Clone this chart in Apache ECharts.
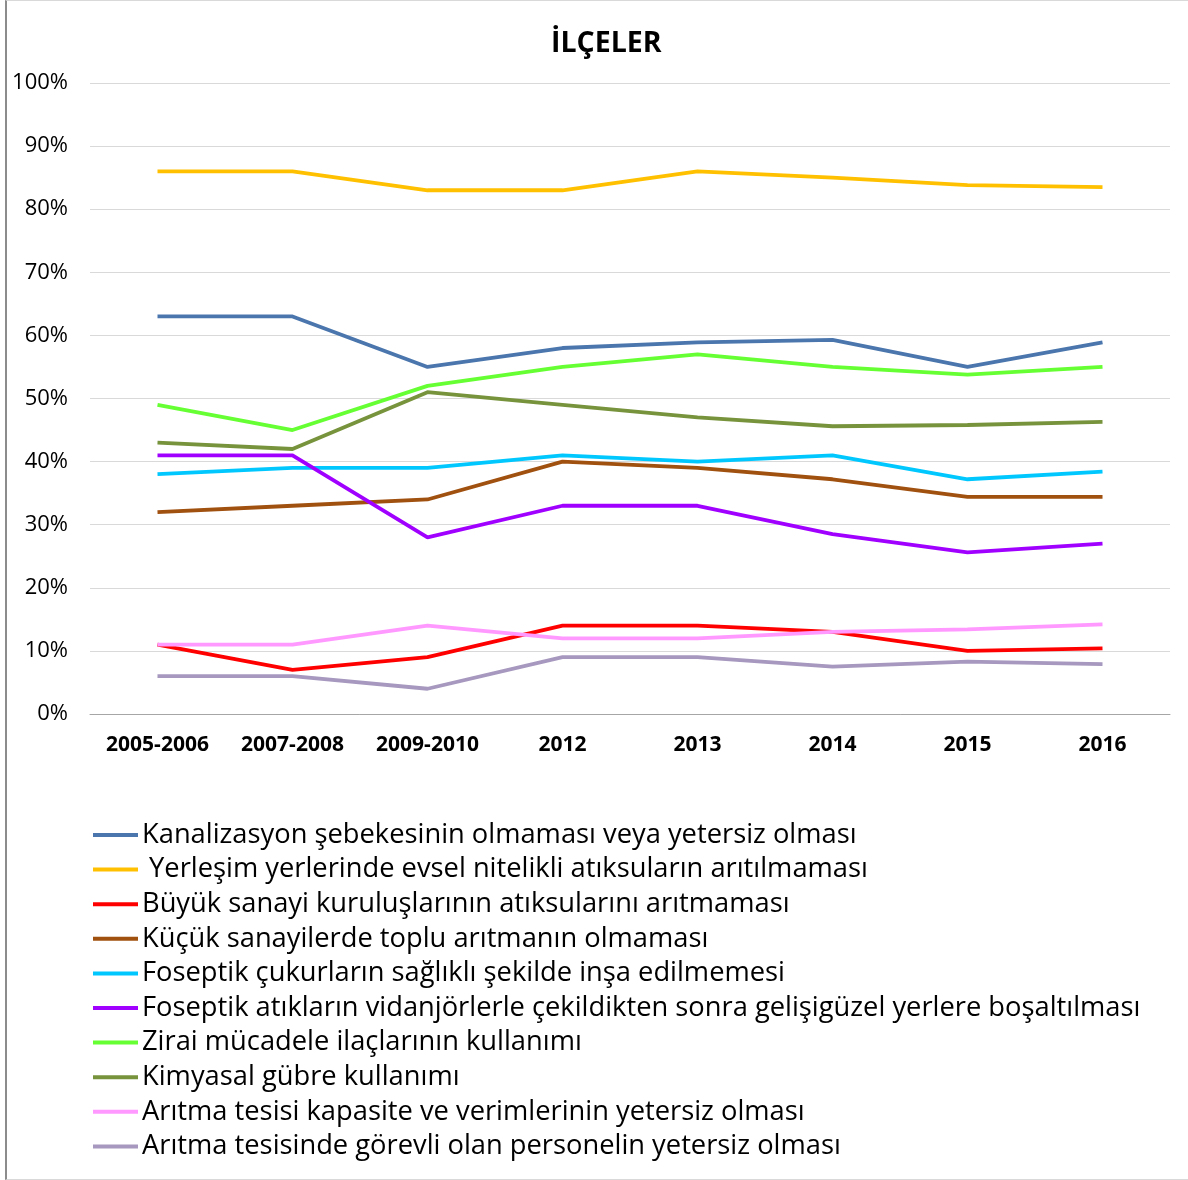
<!DOCTYPE html>
<html>
<head>
<meta charset="utf-8">
<script src="https://cdn.jsdelivr.net/npm/echarts@6/dist/echarts.min.js"></script>
<style>
html,body{margin:0;padding:0;background:#fff;}
#frame{position:absolute;left:5px;top:0;width:1190px;height:1178px;border-left:2px solid #8c8c8c;border-top:1px solid #d9d9d9;border-bottom:1px solid #d9d9d9;}
#chart{position:absolute;left:0;top:0;width:1188px;height:1180px;}
</style>
</head>
<body>
<div id="frame"></div>
<div id="chart"></div>
<script>
const titleText = "İLÇELER";
const categories = ["2005-2006", "2007-2008", "2009-2010", "2012", "2013", "2014", "2015", "2016"];
const yTicks = [0, 10, 20, 30, 40, 50, 60, 70, 80, 90, 100];

const seriesNames = [
  "Kanalizasyon şebekesinin olmaması veya yetersiz olması",
  " Yerleşim yerlerinde evsel nitelikli atıksuların arıtılmaması",
  "Büyük sanayi kuruluşlarının atıksularını arıtmaması",
  "Küçük sanayilerde toplu arıtmanın olmaması",
  "Foseptik çukurların sağlıklı şekilde inşa edilmemesi",
  "Foseptik atıkların vidanjörlerle çekildikten sonra gelişigüzel yerlere boşaltılması",
  "Zirai mücadele ilaçlarının kullanımı",
  "Kimyasal gübre kullanımı",
  "Arıtma tesisi kapasite ve verimlerinin yetersiz olması",
  "Arıtma tesisinde görevli olan personelin yetersiz olması"
];

const kanalizasyon = [63, 63, 55, 58, 58.9, 59.3, 55, 58.9];
const yerlesim     = [86, 86, 83, 83, 86, 85, 83.8, 83.5];
const buyukSanayi  = [11, 7, 9, 14, 14, 13, 10, 10.4];
const kucukSanayi  = [32, 33, 34, 40, 39, 37.2, 34.4, 34.4];
const foseptikCukur = [38, 39, 39, 41, 40, 41, 37.2, 38.4];
const foseptikAtik = [41, 41, 28, 33, 33, 28.5, 25.6, 27];
const zirai        = [49, 45, 52, 55, 57, 55, 53.8, 55];
const kimyasal     = [43, 42, 51, 49, 47, 45.6, 45.8, 46.3];
const aritmaKapasite = [11, 11, 14, 12, 12, 13, 13.4, 14.2];
const aritmaPersonel = [6, 6, 4, 9, 9, 7.5, 8.3, 7.9];

const seriesData = [kanalizasyon, yerlesim, buyukSanayi, kucukSanayi, foseptikCukur,
  foseptikAtik, zirai, kimyasal, aritmaKapasite, aritmaPersonel];
const colors = ["#4a76ad", "#ffc000", "#ff0000", "#a0500f", "#00c8ff",
  "#a000ff", "#66ff33", "#77933c", "#ff99ff", "#a698be"];

const FONT = "'Open Sans', 'Noto Sans', sans-serif";
const chart = echarts.init(document.getElementById('chart'), null, {renderer: 'canvas'});
chart.setOption({
  animation: false,
  backgroundColor: 'transparent',
  color: colors,
  title: {
    text: titleText,
    left: 546,
    top: 24,
    textStyle: {fontFamily: FONT, fontSize: 28.5, fontWeight: 'bold', color: '#000'}
  },
  grid: {left: 90, right: 18, top: 83, bottom: 466, containLabel: false},
  xAxis: {
    type: 'category',
    data: categories,
    boundaryGap: true,
    axisLine: {lineStyle: {color: '#a6a6a6', width: 1}},
    axisTick: {show: false},
    axisLabel: {interval: 0, fontFamily: FONT, fontSize: 21, fontWeight: 'bold', color: '#000', margin: 21}
  },
  yAxis: {
    type: 'value',
    min: 0, max: 100, interval: 10,
    axisLine: {show: false},
    axisTick: {show: false},
    splitLine: {lineStyle: {color: '#d9d9d9', width: 1}},
    axisLabel: {fontFamily: FONT, fontSize: 22, color: '#000', margin: 22,
      formatter: v => yTicks.includes(v) ? v + '%' : ''}
  },
  legend: {
    orient: 'vertical',
    left: 93,
    top: 820,
    padding: 0,
    icon: 'rect',
    itemWidth: 45,
    itemHeight: 4,
    itemGap: 4.6,
    textStyle: {fontFamily: FONT, fontSize: 27.3, color: '#000', lineHeight: 30, padding: [0,0,0,-1]},
    data: seriesNames
  },
  series: seriesNames.map((n, i) => ({
    name: n,
    type: 'line',
    data: seriesData[i],
    symbol: 'none',
    lineStyle: {width: 3.8, color: colors[i]},
    itemStyle: {color: colors[i]}
  }))
});
</script>
</body>
</html>
